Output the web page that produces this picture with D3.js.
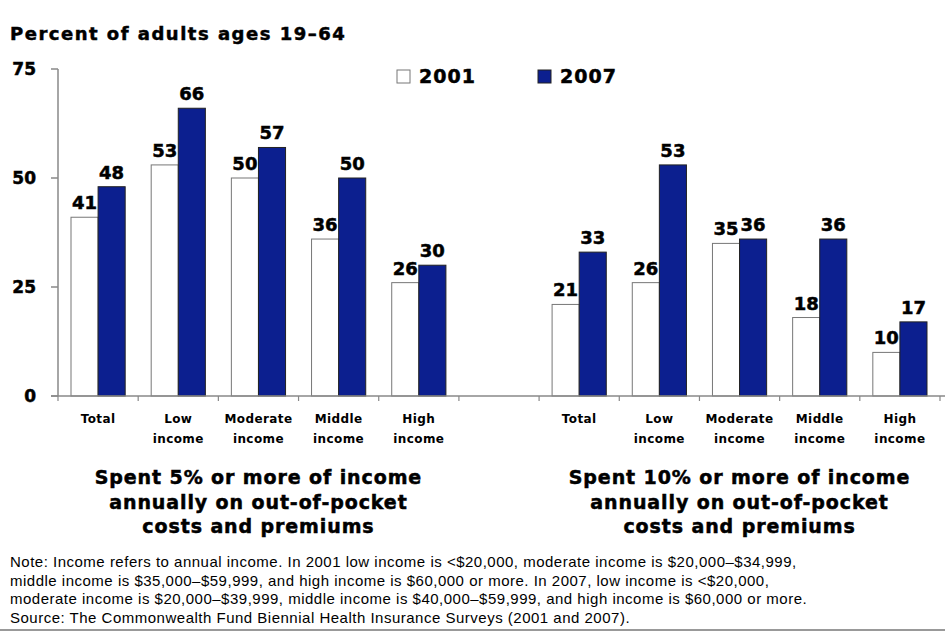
<!DOCTYPE html>
<html>
<head>
<meta charset="utf-8">
<script src="https://cdn.jsdelivr.net/npm/d3@7"></script>
<style>
    body { margin: 0; background: #fff; }
    svg text { font-family: "DejaVu Sans", Verdana, sans-serif; }
    svg text.heavy { stroke: #000; stroke-width: 0.5px; }
</style>
</head>
<body>
<div id="chart"></div>
<script>
var categories = ['Total', 'Low income', 'Moderate income', 'Middle income', 'High income'];
var years = ['2001', '2007'];
var spent5_2001 = [41, 53, 50, 36, 26];
var spent5_2007 = [48, 66, 57, 50, 30];
var spent10_2001 = [21, 26, 35, 18, 10];
var spent10_2007 = [33, 53, 36, 36, 17];
var yTicks = [0, 25, 50, 75];
var groupTitles = [
    ['Spent 5% or more of income', 'annually on out-of-pocket', 'costs and premiums'],
    ['Spent 10% or more of income', 'annually on out-of-pocket', 'costs and premiums']
];
var noteLines = [
    'Note: Income refers to annual income. In 2001 low income is <$20,000, moderate income is $20,000\u2013$34,999,',
    'middle income is $35,000\u2013$59,999, and high income is $60,000 or more. In 2007, low income is <$20,000,',
    'moderate income is $20,000\u2013$39,999, middle income is $40,000\u2013$59,999, and high income is $60,000 or more.',
    'Source: The Commonwealth Fund Biennial Health Insurance Surveys (2001 and 2007).'
];

const width = 945;
const height = 632;
const blue = '#0c1f8f';

const svg = d3.select('#chart').append('svg')
    .attr('width', width)
    .attr('height', height);

// 11 slots: 5 categories, an empty gap, 5 categories
const slots = [];
categories.forEach((c, i) => slots.push({ key: 'a' + i, label: c, v: [spent5_2001[i], spent5_2007[i]] }));
slots.push({ key: 'gap', label: '', v: null });
categories.forEach((c, i) => slots.push({ key: 'b' + i, label: c, v: [spent10_2001[i], spent10_2007[i]] }));

const xScale = d3.scaleBand()
    .domain(slots.map(d => d.key))
    .range([58, 940])
    .paddingInner(0);

const xInner = d3.scaleBand()
    .domain(years)
    .range([0, xScale.bandwidth()])
    .paddingInner(0)
    .paddingOuter(0.48);

const yScale = d3.scaleLinear()
    .domain([0, 75])
    .range([396, 69]);

// title
svg.append('text')
    .attr('class', 'heavy')
    .attr('x', 10)
    .attr('y', 40)
    .attr('font-size', 18)
    .attr('font-weight', 'bold')
    .attr('letter-spacing', 1.5)
    .text('Percent of adults ages 19\u201364');

// y axis
svg.append('line')
    .attr('x1', 58).attr('x2', 58)
    .attr('y1', yScale(75)).attr('y2', yScale(0))
    .attr('stroke', '#888').attr('stroke-width', 1.5);

svg.selectAll('.ytick')
    .data(yTicks)
    .enter().append('line')
    .attr('x1', 51).attr('x2', 58)
    .attr('y1', d => yScale(d)).attr('y2', d => yScale(d))
    .attr('stroke', '#888').attr('stroke-width', 1.5);

svg.selectAll('.ylabel')
    .data(yTicks)
    .enter().append('text')
    .attr('class', 'heavy')
    .attr('x', 36)
    .attr('y', d => yScale(d) + 6)
    .attr('text-anchor', 'end')
    .attr('font-size', 17)
    .attr('font-weight', 'bold')
    .text(d => d);

// bars
const groups = svg.selectAll('.slot')
    .data(slots.filter(d => d.v))
    .enter().append('g')
    .attr('transform', d => `translate(${xScale(d.key)},0)`);

groups.selectAll('rect')
    .data(d => d.v.map((v, i) => ({ year: years[i], value: v })))
    .enter().append('rect')
    .attr('x', d => xInner(d.year))
    .attr('y', d => yScale(d.value))
    .attr('width', xInner.bandwidth())
    .attr('height', d => yScale(0) - yScale(d.value))
    .attr('fill', d => d.year === '2001' ? '#fff' : blue)
    .attr('stroke', d => d.year === '2001' ? '#777' : '#222')
    .attr('stroke-width', 1);

groups.selectAll('.val')
    .data(d => d.v.map((v, i) => ({ year: years[i], value: v })))
    .enter().append('text')
    .attr('class', 'heavy')
    .attr('x', d => xInner(d.year) + xInner.bandwidth() / 2)
    .attr('y', d => yScale(d.value) - 8)
    .attr('text-anchor', 'middle')
    .attr('font-size', 18)
    .attr('font-weight', 'bold')
    .text(d => d.value);

// baseline and ticks
svg.append('line')
    .attr('x1', 51).attr('x2', width)
    .attr('y1', yScale(0)).attr('y2', yScale(0))
    .attr('stroke', '#888').attr('stroke-width', 1.5);

svg.selectAll('.xtick')
    .data(slots.map(d => xScale(d.key)).concat([940]))
    .enter().append('line')
    .attr('x1', d => d).attr('x2', d => d)
    .attr('y1', yScale(0)).attr('y2', yScale(0) + 5)
    .attr('stroke', '#888').attr('stroke-width', 1.2);

// category labels
groups.append('text')
    .attr('x', xScale.bandwidth() / 2)
    .attr('y', 423)
    .attr('text-anchor', 'middle')
    .attr('font-size', 12)
    .attr('font-weight', 'bold')
    .attr('letter-spacing', 0.4)
    .selectAll('tspan')
    .data(d => d.label.split(' '))
    .enter().append('tspan')
    .attr('x', xScale.bandwidth() / 2)
    .attr('dy', (d, i) => i === 0 ? 0 : 20)
    .text(d => d);

// group titles
const titleCenters = [
    (xScale('a0') + xScale('a4') + xScale.bandwidth()) / 2,
    (xScale('b0') + xScale('b4') + xScale.bandwidth()) / 2
];
groupTitles.forEach((lines, gi) => {
    svg.append('text')
        .attr('class', 'heavy')
        .attr('x', titleCenters[gi])
        .attr('y', 484)
        .attr('text-anchor', 'middle')
        .attr('font-size', 19)
        .attr('font-weight', 'bold')
        .attr('letter-spacing', 0.9)
        .selectAll('tspan')
        .data(lines)
        .enter().append('tspan')
        .attr('x', titleCenters[gi])
        .attr('dy', (d, i) => i === 0 ? 0 : 24.5)
        .text(d => d);
});

// legend
const legend = svg.append('g');
const legendX = [397, 538];
years.forEach((y, i) => {
    legend.append('rect')
        .attr('x', legendX[i]).attr('y', 70)
        .attr('width', 13).attr('height', 13)
        .attr('fill', i === 0 ? '#fff' : blue)
        .attr('stroke', i === 0 ? '#777' : '#222');
    legend.append('text')
        .attr('class', 'heavy')
        .attr('x', legendX[i] + 22)
        .attr('y', 83)
        .attr('font-size', 19)
        .attr('font-weight', 'bold')
        .attr('letter-spacing', 1)
        .text(y);
});

// notes
svg.selectAll('.note')
    .data(noteLines)
    .enter().append('text')
    .attr('x', 10)
    .attr('y', (d, i) => 567 + i * 18.5)
    .style('font-family', '"Liberation Sans", Arial, sans-serif')
    .attr('font-size', 15)
    .attr('letter-spacing', 0.5)
    .text(d => d);

svg.append('line')
    .attr('x1', 0).attr('x2', width)
    .attr('y1', 630).attr('y2', 630)
    .attr('stroke', '#999').attr('stroke-width', 2);
</script>
</body>
</html>
